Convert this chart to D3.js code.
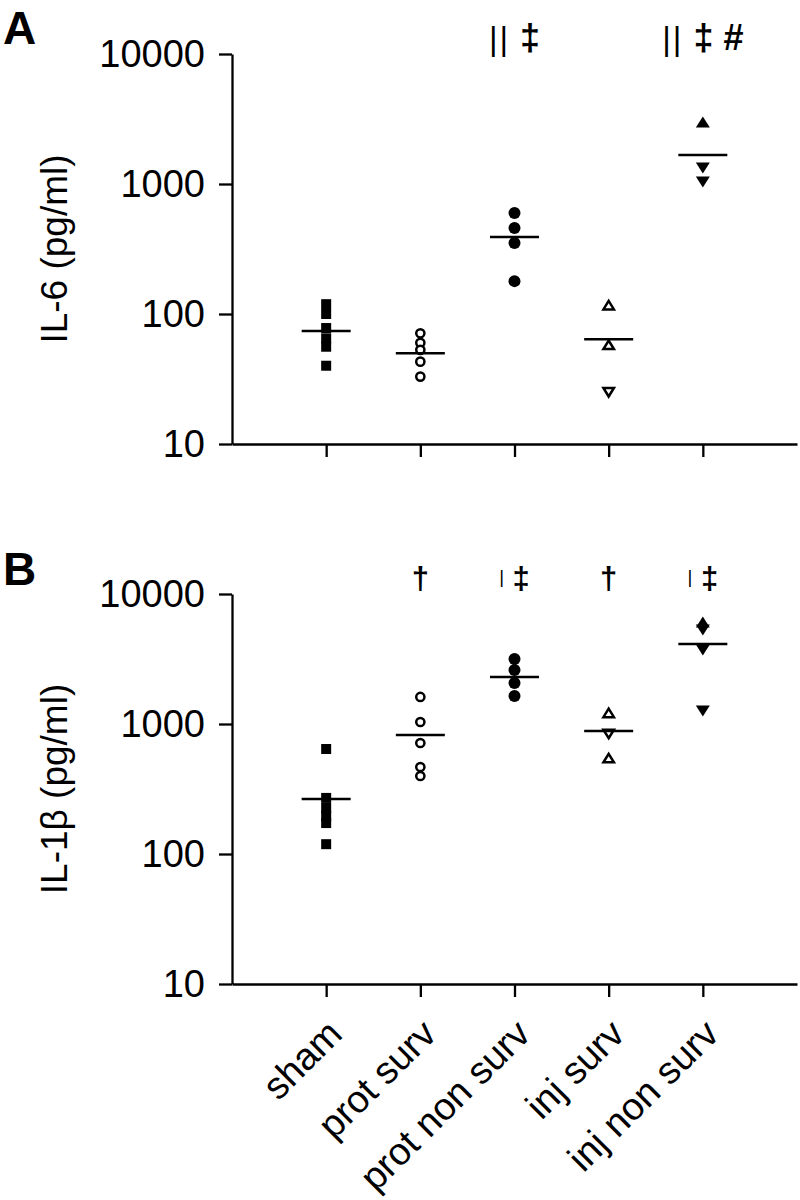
<!DOCTYPE html>
<html>
<head>
<meta charset="utf-8">
<script src="https://cdn.jsdelivr.net/npm/d3@7"></script>
<style>
  body { margin: 0; background: #fff; }
  text { font-family: "Liberation Sans", Arial, Helvetica, sans-serif; fill: #000; }
</style>
</head>
<body>
<svg id="chart" width="800" height="1200"></svg>
<script>
const categories = ["sham", "prot surv", "prot non surv", "inj surv", "inj non surv"];
const yTicks = [10, 100, 1000, 10000];

// marker kind for each group
const groupMarkers = ["square", "openCircle", "circle", "openTriangle", "triangle"];

// IL-6 (pg/ml)
const il6Values = [
  [119, 100, 78, 65, 56, 40],
  [71, 60, 53, 43, 33],
  [598, 459, 352, 179],
  [117, 58, 25],
  [3000, 1327, 1036]
];
const il6Dirs = [[], [], [], ["up", "up", "down"], ["up", "down", "down"]];
const il6Means = [74, 50, 391, 64, 1670];
const il6Marks = [[], [], ["||", "‡"], [], ["||", "‡", "#"]];

// IL-1beta (pg/ml)
const il1bValues = [
  [642, 270, 226, 196, 173, 119],
  [1614, 1036, 714, 467, 398],
  [3162, 2600, 2065, 1640],
  [1216, 838, 547],
  [6095, 5290, 3705, 1260]
];
const il1bDirs = [[], [], [], ["up", "down", "up"], ["up", "down", "down", "down"]];
const il1bMeans = [265, 822, 2300, 883, 4125];
const il1bMarks = [[], ["†"], ["|", "‡"], ["†"], ["|", "‡"]];

const svg = d3.select("#chart");
const x = d3.scaleLinear().domain([0, 6]).range([232, 797]);

function triangle(cx, cy, w, h, dir) {
  const s = dir === "down" ? -1 : 1;
  return `M${cx},${cy - s * h / 2}L${cx + w / 2},${cy + s * h / 2}L${cx - w / 2},${cy + s * h / 2}Z`;
}

function drawMarker(g, cx, cy, kind, dir) {
  if (kind === "square") {
    g.append("rect").attr("x", cx - 5).attr("y", cy - 5).attr("width", 10).attr("height", 10).attr("fill", "#000");
  } else if (kind === "circle") {
    g.append("circle").attr("cx", cx).attr("cy", cy).attr("r", 6).attr("fill", "#000");
  } else if (kind === "openCircle") {
    g.append("circle").attr("cx", cx).attr("cy", cy).attr("r", 4.1)
      .attr("fill", "#fff").attr("stroke", "#000").attr("stroke-width", 2.5);
  } else if (kind === "triangle") {
    g.append("path").attr("d", triangle(cx, cy, 14, 11, dir)).attr("fill", "#000");
  } else if (kind === "openTriangle") {
    g.append("path").attr("d", triangle(cx, cy, 10.5, 8.5, dir))
      .attr("fill", "#fff").attr("stroke", "#000").attr("stroke-width", 2.5).attr("stroke-linejoin", "miter");
  }
}

function drawPanel(p) {
  const y = d3.scaleLog().domain([10, 10000]).range([p.bottom, p.top]);
  const g = svg.append("g");

  const yAxis = g.append("g")
    .attr("transform", `translate(${x(0)},0)`)
    .call(d3.axisLeft(y).tickValues(yTicks).tickFormat(d3.format("d"))
      .tickSize(13).tickSizeOuter(0).tickPadding(14));

  const xAxis = g.append("g")
    .attr("transform", `translate(0,${p.bottom})`)
    .call(d3.axisBottom(x).tickValues(d3.range(1, categories.length + 1)).tickFormat("")
      .tickSize(13).tickSizeOuter(0));

  [yAxis, xAxis].forEach(a => {
    a.selectAll("path, line").attr("stroke", "#000").attr("stroke-width", 2.3);
    a.selectAll("text").attr("font-size", 38).attr("fill", "#000")
      .attr("font-family", '"Liberation Sans", Arial, sans-serif');
  });

  g.append("text")
    .attr("transform", `translate(67,${(p.top + p.bottom) / 2}) rotate(-90)`)
    .attr("text-anchor", "middle")
    .attr("font-size", 37)
    .text(p.label);

  g.append("text")
    .attr("x", 3).attr("y", p.letterY)
    .attr("font-size", 46).attr("font-weight", "bold")
    .text(p.letter);

  p.values.forEach((vals, i) => {
    vals.forEach((v, j) => drawMarker(g, x(i + 1), y(v), groupMarkers[i], p.dirs[i][j]));
  });

  g.selectAll(".mean").data(p.means).enter().append("line")
    .attr("x1", (d, i) => x(i + 1) - 24.5)
    .attr("x2", (d, i) => x(i + 1) + 24.5)
    .attr("y1", d => y(d)).attr("y2", d => y(d))
    .attr("stroke", "#000").attr("stroke-width", 2.5);

  p.marks.forEach((m, i) => {
    if (!m.length) return;
    const t = g.append("text")
      .attr("x", x(i + 1)).attr("y", p.markY)
      .attr("text-anchor", "middle")
      .attr("font-weight", "bold")
      .attr("font-size", p.markSize);
    m.forEach((s, k) => {
      const ts = t.append("tspan").text((k ? " " : "") + s);
      if (s === "||") ts.attr("font-size", p.markSize * 0.92).attr("font-weight", "normal").attr("letter-spacing", 2);
      if (s === "|") ts.attr("font-size", p.markSize * 0.6).attr("font-weight", "normal").attr("dy", -6);
      if (k > 0 && m[k - 1] === "|") ts.attr("dy", 6);
    });
  });
}

drawPanel({
  top: 54, bottom: 444, label: "IL-6 (pg/ml)", letter: "A", letterY: 44,
  values: il6Values, dirs: il6Dirs, means: il6Means, marks: il6Marks, markY: 50, markSize: 36
});

drawPanel({
  top: 594, bottom: 984, label: "IL-1β (pg/ml)", letter: "B", letterY: 585,
  values: il1bValues, dirs: il1bDirs, means: il1bMeans, marks: il1bMarks, markY: 589, markSize: 31
});

// rotated category labels under panel B
svg.append("g").selectAll("text").data(categories).enter().append("text")
  .attr("transform", (d, i) => `translate(${x(i + 1) + 18},1036) rotate(-45)`)
  .attr("text-anchor", "end")
  .attr("font-size", 38)
  .text(d => d);
</script>
</body>
</html>
